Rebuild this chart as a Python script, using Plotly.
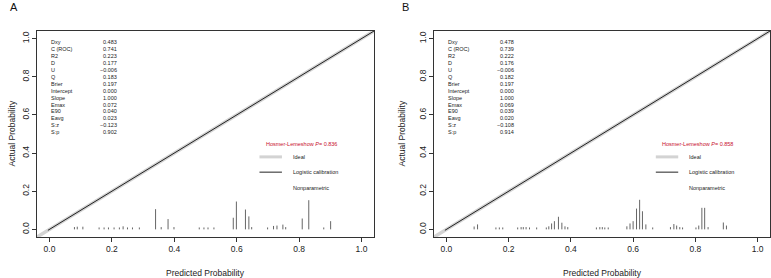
import plotly.graph_objects as go

# ---------------- data ----------------
stat_names = ["Dxy", "C (ROC)", "R2", "D", "U", "Q", "Brier", "Intercept",
              "Slope", "Emax", "E90", "Eavg", "S:z", "S:p"]
stats_a = ["0.483", "0.741", "0.223", "0.177", "\u22120.006", "0.183", "0.197",
           "0.000", "1.000", "0.072", "0.040", "0.023", "\u22120.123", "0.902"]
stats_b = ["0.478", "0.739", "0.222", "0.176", "\u22120.006", "0.182", "0.197",
           "0.000", "1.000", "0.069", "0.039", "0.020", "\u22120.108", "0.914"]
hl_p_a = "0.836"
hl_p_b = "0.858"

spike_x_a = [0.080, 0.089, 0.107, 0.159, 0.175, 0.189, 0.207, 0.224, 0.236, 0.250, 0.266,
             0.288, 0.340, 0.358, 0.380, 0.399, 0.480, 0.495, 0.508, 0.527,
             0.589, 0.599, 0.628, 0.639, 0.648, 0.699, 0.718, 0.729, 0.748,
             0.757, 0.810, 0.831, 0.879, 0.901]
spike_h_a = [0.012, 0.014, 0.014, 0.010, 0.010, 0.010, 0.010, 0.010, 0.016, 0.010, 0.010,
             0.010, 0.106, 0.012, 0.054, 0.012, 0.010, 0.010, 0.010, 0.010,
             0.061, 0.146, 0.104, 0.068, 0.012, 0.010, 0.018, 0.020, 0.025,
             0.012, 0.057, 0.153, 0.010, 0.043]

spike_x_b = [0.089, 0.100, 0.159, 0.170, 0.181, 0.229, 0.240, 0.247, 0.256, 0.267,
             0.290, 0.321, 0.329, 0.338, 0.347, 0.360, 0.371, 0.381, 0.390,
             0.482, 0.493, 0.501, 0.509, 0.520, 0.580, 0.590, 0.600, 0.611,
             0.621, 0.630, 0.641, 0.663, 0.720, 0.731, 0.740, 0.750, 0.759,
             0.802, 0.811, 0.821, 0.830, 0.841, 0.890, 0.900]
spike_h_b = [0.015, 0.026, 0.010, 0.010, 0.010, 0.010, 0.012, 0.012, 0.012, 0.010,
             0.010, 0.010, 0.016, 0.031, 0.043, 0.066, 0.035, 0.016, 0.012,
             0.010, 0.012, 0.012, 0.010, 0.010, 0.016, 0.031, 0.043, 0.109,
             0.155, 0.095, 0.026, 0.010, 0.012, 0.028, 0.020, 0.012, 0.010,
             0.010, 0.020, 0.113, 0.113, 0.012, 0.036, 0.020]

ideal_x = [-0.04, 1.04]
logistic_x = [-0.005, 1.04]
tick_vals = [0.0, 0.2, 0.4, 0.6, 0.8, 1.0]
tick_text = ["0.0", "0.2", "0.4", "0.6", "0.8", "1.0"]
legend_labels = ["Ideal", "Logistic calibration", "Nonparametric"]

# ---------------- style ----------------
FONT = "Liberation Sans, Arial, Helvetica, sans-serif"
W, H = 771, 278
AX_COLOR = "#333333"
HL_COLOR = "#c8102e"

fig = go.Figure()


def spikes(xs, hs):
    px, py = [], []
    for x, h in zip(xs, hs):
        px += [x, x, None]
        py += [0, h, None]
    return px, py


panels = [
    ("x", "y", spike_x_a, spike_h_a),
    ("x2", "y2", spike_x_b, spike_h_b),
]
for xa, ya, sx, sh in panels:
    fig.add_trace(go.Scatter(x=ideal_x, y=ideal_x, mode="lines",
                             line=dict(color="#d3d3d3", width=3.5),
                             xaxis=xa, yaxis=ya, showlegend=False, hoverinfo="skip"))
    fig.add_trace(go.Scatter(x=logistic_x, y=logistic_x, mode="lines",
                             line=dict(color="#222222", width=1),
                             xaxis=xa, yaxis=ya, showlegend=False, hoverinfo="skip"))
    px, py = spikes(sx, sh)
    fig.add_trace(go.Scatter(x=px, y=py, mode="lines",
                             line=dict(color="#666666", width=1),
                             xaxis=xa, yaxis=ya, showlegend=False, hoverinfo="skip"))

axis_common = dict(range=[-0.04, 1.04], showgrid=False, zeroline=False,
                   showline=True, mirror=True, linecolor=AX_COLOR, linewidth=1,
                   ticks="outside", ticklen=4, tickcolor=AX_COLOR, tickwidth=1,
                   tickvals=tick_vals, ticktext=tick_text,
                   tickfont=dict(family=FONT, size=8.5, color="#222222"))

ydom = [1 - 237 / H, 1 - 31 / H]
fig.update_layout(
    width=W, height=H, autosize=False,
    margin=dict(l=0, r=0, t=0, b=0),
    paper_bgcolor="white", plot_bgcolor="white",
    font=dict(family=FONT, size=8.5, color="#222222"),
    xaxis=dict(domain=[37 / W, 374 / W], anchor="y", **axis_common),
    yaxis=dict(domain=ydom, anchor="x", tickangle=-90, **axis_common),
    xaxis2=dict(domain=[434 / W, 770 / W], anchor="y2", **axis_common),
    yaxis2=dict(domain=ydom, anchor="x2", tickangle=-90, **axis_common),
)

annotations = []
shapes = []
row0, row_step = 0.981, 0.0363
for (xa, ya, stats, hl, letter, lx, ylx, xc) in [
    ("x", "y", stats_a, hl_p_a, "A", 14 / W, 11.5 / W, 205.5 / W),
    ("x2", "y2", stats_b, hl_p_b, "B", 405 / W, 401.5 / W, 602 / W),
]:
    for i, (name, val) in enumerate(zip(stat_names, stats)):
        yy = row0 - i * row_step
        annotations.append(dict(x=0.0, y=yy, xref=xa, yref=ya, text=name,
                                showarrow=False, xanchor="left", yanchor="middle",
                                font=dict(size=5.5, color="#222222")))
        annotations.append(dict(x=0.224, y=yy, xref=xa, yref=ya, text=val,
                                showarrow=False, xanchor="right", yanchor="middle",
                                font=dict(size=5.5, color="#222222")))
    annotations.append(dict(x=0.686, y=0.445, xref=xa, yref=ya,
                            text="Hosmer-Lemeshow <i>P</i>= " + hl,
                            showarrow=False, xanchor="left", yanchor="middle",
                            font=dict(size=5.5, color=HL_COLOR)))
    leg_y = [0.38, 0.30, 0.219]
    for lab, yy in zip(legend_labels, leg_y):
        annotations.append(dict(x=0.773, y=yy, xref=xa, yref=ya, text=lab,
                                showarrow=False, xanchor="left", yanchor="middle",
                                font=dict(size=5.5, color="#222222")))
    shapes.append(dict(type="line", xref=xa, yref=ya, x0=0.673, x1=0.745,
                       y0=leg_y[0], y1=leg_y[0], line=dict(color="#d3d3d3", width=3)))
    shapes.append(dict(type="line", xref=xa, yref=ya, x0=0.673, x1=0.745,
                       y0=leg_y[1], y1=leg_y[1], line=dict(color="#222222", width=1)))
    # panel letter
    annotations.append(dict(x=lx, y=1.0, xref="paper", yref="paper", text=letter,
                            showarrow=False, xanchor="center", yanchor="top",
                            borderpad=0,
                            font=dict(size=11, color="#111111")))
    # axis titles
    annotations.append(dict(x=xc, y=1 - 273 / H, xref="paper", yref="paper",
                            text="Predicted Probability", showarrow=False,
                            xanchor="center", yanchor="middle",
                            font=dict(size=8.5, color="#222222")))
    annotations.append(dict(x=ylx, y=1 - 134 / H, xref="paper", yref="paper",
                            text="Actual Probability", showarrow=False, textangle=-90,
                            xanchor="center", yanchor="middle",
                            font=dict(size=8.5, color="#222222")))

fig.update_layout(annotations=annotations, shapes=shapes)
fig.write_html("out.html")
